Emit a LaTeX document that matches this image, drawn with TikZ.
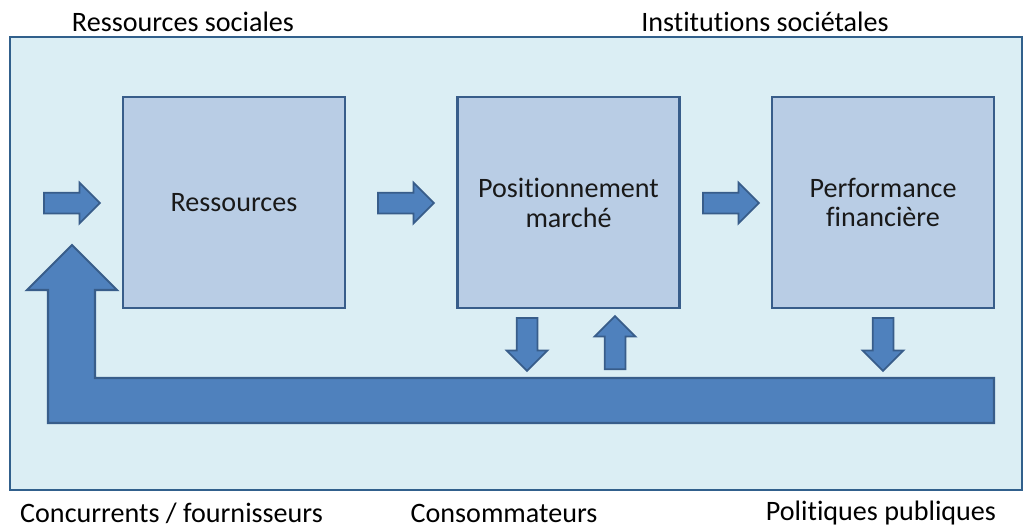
\documentclass[tikz,border=0pt]{standalone}
\usepackage{fontspec}
\setmainfont[Ligatures=NoCommon]{Carlito}
\definecolor{frameblue}{RGB}{219,238,244}
\definecolor{frameline}{RGB}{49,96,140}
\definecolor{boxfill}{RGB}{185,205,229}
\definecolor{boxline}{RGB}{56,93,138}
\definecolor{arrowfill}{RGB}{79,129,189}
\usetikzlibrary{shapes.arrows}
\tikzstyle{block}=[rectangle,draw=boxline,fill=boxfill,line width=1.2pt,minimum width=4.44cm,minimum height=4.22cm,align=center,font=\fontsize{16}{17}\selectfont,text=black!90]
\tikzstyle{flow}=[single arrow,draw=boxline,fill=arrowfill,line width=1pt,inner sep=0.19cm,minimum width=0.8cm,minimum height=1.12cm,single arrow head extend=0.2cm,anchor=tail]
\tikzstyle{label}=[font=\fontsize{16}{18}\selectfont,text=black]

\begin{document}
\begin{tikzpicture}[x=0.02cm,y=-0.02cm]
                    \useasboundingbox (0,0) rectangle (1034,528);
                    \path[draw=frameline,fill=frameblue,line width=1.4pt] (10,37) rectangle (1022,490);

                    \node[block] (res) at (234,202.5) {Ressources};
                    \node[block] (pos) at (568.5,202.5) {Positionnement\\marché};
                    \node[block] (perf) at (883,202.5) {Performance\\financière};

                    \node[flow] (in) at (43,203) {};
                    \node[flow] (respos) at (377,203) {};
                    \node[flow] (posperf) at (702,203) {};
                    \node[flow,rotate=-90,minimum height=1.06cm] (posdown) at (527,317) {};
                    \node[flow,rotate=90,minimum height=1.06cm] (posup) at (615,370) {};
                    \node[flow,rotate=-90,minimum height=1.06cm] (perfdown) at (883,317) {};

                    \path[draw=boxline,fill=arrowfill,line width=1.2pt,line join=miter]
                        (72,245) -- (117,290) -- (95,290) -- (95,378) -- (994,378) -- (994,423)
                        -- (48,423) -- (48,290) -- (27,290) -- cycle;

                    \node[label] (soc) at (183,22) {Ressources sociales};
                    \node[label] (inst) at (765,22) {Institutions sociétales};
                    \node[label] (conc) at (171.5,513) {Concurrents / fournisseurs};
                    \node[label] (cons) at (504,513) {Consommateurs};
                    \node[label] (pol) at (881,513) {Politiques publiques};
                \end{tikzpicture}
\end{document}
